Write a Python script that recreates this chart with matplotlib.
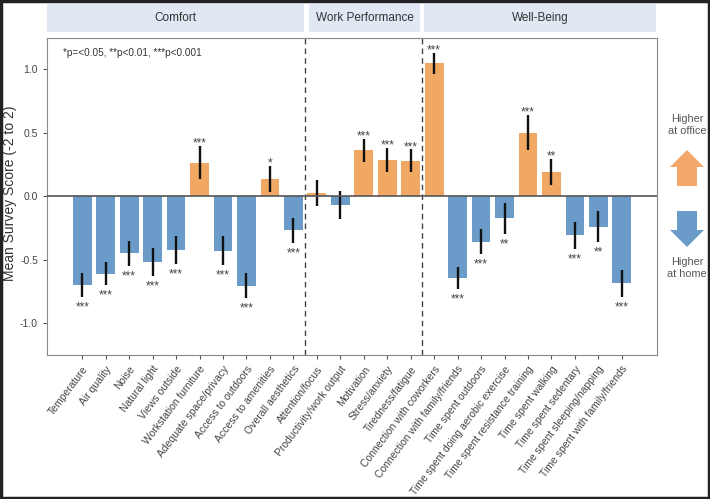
import matplotlib
matplotlib.use("Agg")
import matplotlib.pyplot as plt
from matplotlib.patches import Rectangle, FancyArrow
import numpy as np

plt.rcParams['font.family'] = ['Liberation Sans', 'DejaVu Sans']

categories = ["Temperature", "Air quality", "Noise", "Natural light", "Views outside",
              "Workstation furniture", "Adequate space/privacy", "Access to outdoors",
              "Access to amenities", "Overall aesthetics",
              "Attention/focus", "Productivity/work output", "Motivation", "Stress/anxiety",
              "Tiredness/fatigue",
              "Connection with coworkers", "Connection with family/friends",
              "Time spent outdoors", "Time spent doing aerobic exercise",
              "Time spent resistance training", "Time spent walking", "Time spent sedentary",
              "Time spent sleeping/napping", "Time spent with family/friends"]
means = [-0.70, -0.61, -0.45, -0.52, -0.42, 0.265, -0.43, -0.705, 0.135, -0.27,
         0.026, -0.07, 0.36, 0.283, 0.278,
         1.045, -0.645, -0.357, -0.173, 0.50, 0.192, -0.307, -0.241, -0.687]
errors = [0.095, 0.09, 0.10, 0.11, 0.11, 0.13, 0.115, 0.10, 0.106, 0.098,
          0.10, 0.11, 0.09, 0.096, 0.09,
          0.085, 0.085, 0.096, 0.122, 0.138, 0.104, 0.105, 0.123, 0.105]
stars = ["***", "***", "***", "***", "***", "***", "***", "***", "*", "***",
         "", "", "***", "***", "***",
         "***", "***", "***", "**", "***", "**", "***", "**", "***"]
groups = ["Comfort", "Work Performance", "Well-Being"]
group_sizes = [10, 5, 9]

blue = "#6b9bc9"
orange = "#f1a862"

fig = plt.figure(figsize=(7.1, 4.99), dpi=100)
ax = fig.add_axes([47/710, 1-355/499, 610/710, 317/499])

x = np.arange(len(categories))
colors = [orange if m > 0 else blue for m in means]
ax.bar(x, means, width=0.8, color=colors, zorder=2)
ax.errorbar(x, means, yerr=errors, fmt='none', ecolor='#111111', elinewidth=1.7, capsize=0, zorder=3)
ax.axhline(0, color='#555555', lw=1.2, zorder=4)

for xi, m, e, s in zip(x, means, errors, stars):
    if not s:
        continue
    if m < 0:
        ax.text(xi, m - e - 0.035, s, ha='center', va='top', fontsize=8.5, color='#444444')
    else:
        ax.text(xi, m + e - 0.03, s, ha='center', va='bottom', fontsize=8.5, color='#444444')

bounds = np.cumsum(group_sizes)[:-1] - 0.5
for b in bounds:
    ax.axvline(b, color='#444444', lw=1, ls=(0, (4, 3)), zorder=1)

ax.set_xlim(-1.5, 24.5)
ax.set_ylim(-1.25, 1.245)
ax.set_yticks([-1.0, -0.5, 0.0, 0.5, 1.0])
ax.set_yticklabels(["-1.0", "-0.5", "0.0", "0.5", "1.0"])
ax.set_xticks(x)
ax.set_xticklabels(categories, rotation=53, ha='right', rotation_mode='anchor')
ax.tick_params(axis='both', labelsize=7.5, colors='#555555', labelcolor='#444444', length=3)
for sp in ax.spines.values():
    sp.set_color('#888888')
ax.set_ylabel("Mean Survey Score (-2 to 2)", fontsize=10, color='#333333', va='center')
ax.yaxis.set_label_coords(-37/610, 0.51)

ax.text((63-47)/610, 1-15/317, "*p=<0.05, **p<0.01, ***p<0.001", transform=ax.transAxes,
        fontsize=7.2, color='#333333', va='center', ha='left')

# header boxes
boxes = [(47.5, 304), (309, 420), (424, 656)]
for (x0, x1), g in zip(boxes, groups):
    fig.patches.append(Rectangle((x0/710, 1-32/499), (x1-x0)/710, 28/499,
                                 transform=fig.transFigure, facecolor='#dfe8f3',
                                 edgecolor='none'))
    fig.text((x0+x1)/2/710, 1-18/499, g, ha='center', va='center', fontsize=8.5, color='#333333')

# right side arrows
cx = 687/710
fig.text(cx, 1-125/499, "Higher\nat office", ha='center', va='center', fontsize=7.8,
         color='#555555', linespacing=1.2)
fig.patches.append(FancyArrow(cx, 1-186/499, 0, 36/499, width=20/710, head_width=34/710,
                              head_length=17/499, length_includes_head=True,
                              transform=fig.transFigure, color='#f3a76b', lw=0))
fig.patches.append(FancyArrow(cx, 1-211/499, 0, -36/499, width=20/710, head_width=34/710,
                              head_length=17/499, length_includes_head=True,
                              transform=fig.transFigure, color='#6b9bc9', lw=0))
fig.text(cx, 1-268/499, "Higher\nat home", ha='center', va='center', fontsize=7.8,
         color='#555555', linespacing=1.2)

# outer frame
fig.patches.append(Rectangle((0.002, 0.002), 0.996, 0.996, transform=fig.transFigure,
                             facecolor='none', edgecolor='#222222', lw=2.5))

fig.savefig("out.png", dpi=100)
